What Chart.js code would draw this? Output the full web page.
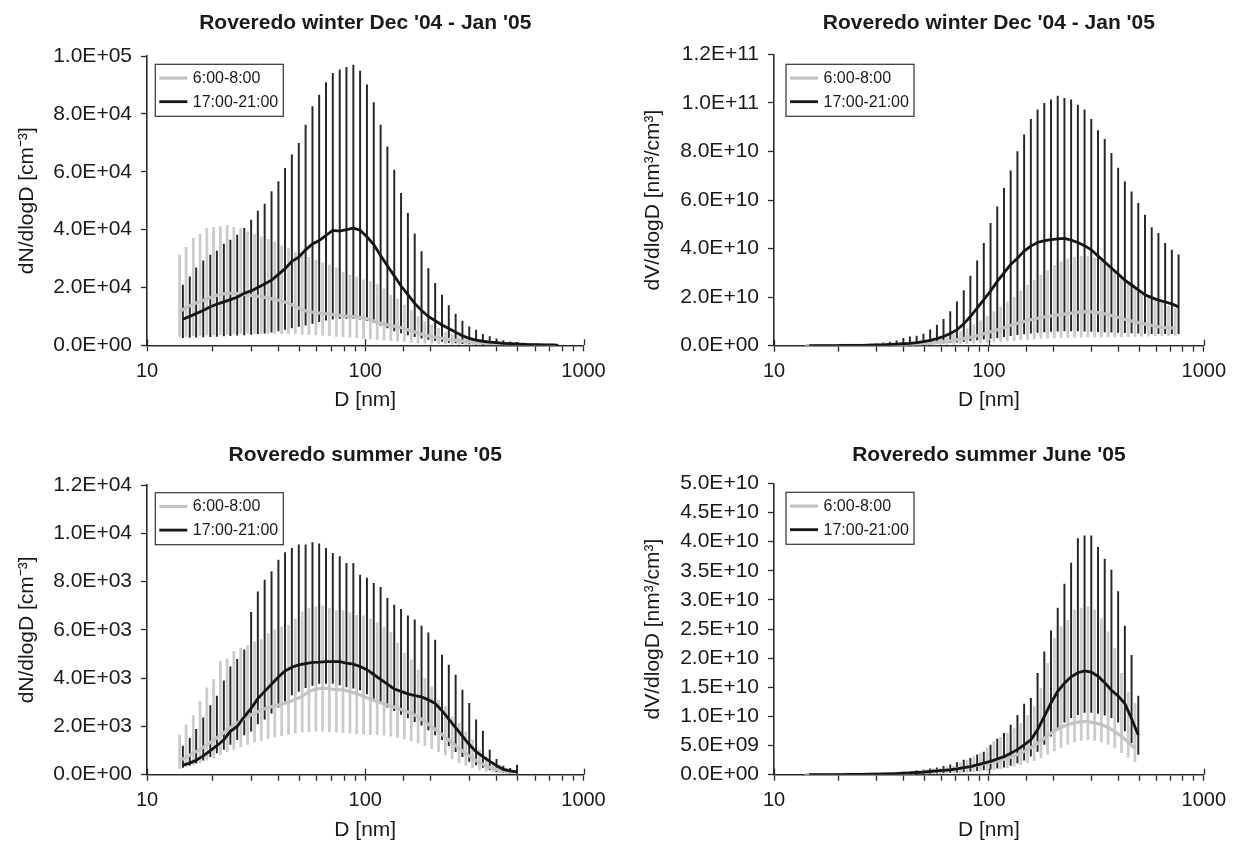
<!DOCTYPE html>
<html><head><meta charset="utf-8">
<script src="https://cdn.jsdelivr.net/npm/chart.js@4.4.1/dist/chart.umd.min.js"></script>
<style>
html,body{margin:0;padding:0;background:#fff;}
#wrap{position:relative;width:1234px;height:843px;background:#fff;}
canvas{position:absolute;}
</style></head><body>
<div id="wrap">
<canvas id="c1" width="617" height="421" style="left:0;top:0"></canvas>
<canvas id="c2" width="617" height="421" style="left:617px;top:0"></canvas>
<canvas id="c3" width="617" height="422" style="left:0;top:421px"></canvas>
<canvas id="c4" width="617" height="422" style="left:617px;top:421px"></canvas>
</div>
<script>
// ---------- labels ----------
const titles = ["Roveredo winter Dec '04 - Jan '05", "Roveredo winter Dec '04 - Jan '05", "Roveredo summer June '05", "Roveredo summer June '05"];
const yTitles = ["dN/dlogD [cm\u207B\u00B3]", "dV/dlogD [nm\u00B3/cm\u00B3]", "dN/dlogD [cm\u207B\u00B3]", "dV/dlogD [nm\u00B3/cm\u00B3]"];
const xTitle = "D [nm]";
const legendLabels = ["6:00-8:00", "17:00-21:00"];
const xTickLabels = ["10", "100", "1000"];
const winterN_yLabels = ["0.0E+00", "2.0E+04", "4.0E+04", "6.0E+04", "8.0E+04", "1.0E+05"];
const winterV_yLabels = ["0.0E+00", "2.0E+10", "4.0E+10", "6.0E+10", "8.0E+10", "1.0E+11", "1.2E+11"];
const summerN_yLabels = ["0.0E+00", "2.0E+03", "4.0E+03", "6.0E+03", "8.0E+03", "1.0E+04", "1.2E+04"];
const summerV_yLabels = ["0.0E+00", "5.0E+09", "1.0E+10", "1.5E+10", "2.0E+10", "2.5E+10", "3.0E+10", "3.5E+10", "4.0E+10", "4.5E+10", "5.0E+10"];

// ---------- diameters (nm) ----------
const D_even = [14.1, 15.1, 16.3, 17.5, 18.8, 20.2, 21.7, 23.3, 25.0, 26.9, 28.9, 31.1, 33.4, 35.9, 38.5, 41.4, 44.5, 47.8, 51.4, 55.2, 59.4, 63.8, 68.5, 73.7, 79.1, 85.1, 91.4, 98.2, 105.5, 113.4, 121.9, 131.0, 140.7, 151.2, 162.5, 174.7, 187.7, 201.7, 216.7, 232.9, 250.3, 269.0, 289.0, 310.6, 333.8, 358.7, 385.4, 414.2, 445.1, 478.3, 514.0, 552.3, 593.5, 637.8, 685.4, 736.5];
const D_odd = [14.6, 15.7, 16.8, 18.1, 19.5, 20.9, 22.5, 24.1, 25.9, 27.9, 30.0, 32.2, 34.6, 37.2, 40.0, 42.9, 46.1, 49.6, 53.3, 57.3, 61.5, 66.1, 71.0, 76.4, 82.0, 88.2, 94.7, 101.8, 109.4, 117.6, 126.3, 135.8, 145.9, 156.8, 168.5, 181.1, 194.6, 209.1, 224.7, 241.4, 259.5, 278.8, 299.6, 322.0, 346.0, 371.8, 399.5, 429.4, 461.4, 495.8, 532.8, 572.5, 615.3, 661.2, 710.5, 763.5];

// ---------- winter, number ----------
const winterN_gray_mean = [11600, 13000, 14300, 15100, 16000, 17000, 17600, 18000, 18000, 17800, 17400, 17000, 16800, 16300, 15900, 15300, 14500, 13500, 12300, 11600, 11300, 11000, 10800, 10500, 10200, 10000, 9800, 9500, 8800, 8000, 7300, 6800, 6400, 5700, 5000, 4200, 3500, 3000, 2600, 2200, 1900, 1600, 1300, 1100, 900, 700, 550, 450, 350, 300, 250, 200, 150, 120, 100, 80];
const winterN_gray_high = [31200, 33900, 37000, 38400, 40400, 40800, 41000, 41500, 40800, 40400, 39300, 38400, 37500, 36600, 35800, 34400, 33500, 32100, 31200, 30400, 29500, 28500, 27800, 26800, 25100, 24300, 23700, 22600, 22000, 21000, 19500, 17400, 16000, 13900, 12000, 9900, 8200, 7000, 5900, 4500, 3800, 3000, 2400, 1700, 1300, 1000, 800, 600, 500, 400, 350, 300, 250, 200, 150, 120];
const winterN_gray_low = [3000, 3100, 3300, 3400, 3500, 3600, 3700, 3800, 3900, 4000, 4100, 4100, 4100, 4100, 4100, 4000, 4000, 3900, 3800, 3700, 3600, 3500, 3300, 3100, 3000, 2800, 2600, 2400, 2200, 2000, 1800, 1700, 1500, 1300, 1100, 900, 750, 650, 550, 450, 350, 300, 250, 200, 150, 120, 100, 80, 60, 50, 40, 30, 25, 20, 15, 10];
const winterN_black_mean = [9000, 10000, 11000, 12000, 13300, 14200, 15000, 15800, 16600, 18000, 18800, 20000, 21200, 22500, 24500, 26500, 29000, 30500, 33000, 35000, 36200, 38000, 39700, 39500, 40000, 40500, 39800, 37500, 34800, 31000, 27500, 24000, 20500, 17500, 14500, 12000, 10000, 8500, 7000, 5800, 4500, 3300, 2400, 1800, 1400, 1100, 900, 700, 550, 450, 350, 250, 200, 150, 100, 80];
const winterN_black_high = [20800, 23700, 26800, 29200, 31200, 32600, 35000, 36400, 38100, 40400, 43300, 46400, 48800, 53100, 56600, 61200, 65800, 69800, 76100, 82500, 86500, 90800, 94000, 95200, 96100, 96900, 94800, 90000, 83900, 76100, 68600, 60600, 52500, 45600, 38500, 32400, 26500, 21400, 17400, 13700, 10800, 8400, 6400, 5300, 3800, 3000, 2200, 1600, 1200, 1000, 800, 600, 450, 350, 250, 200];
const winterN_black_low = [2600, 2700, 2800, 2900, 3000, 3100, 3200, 3300, 3500, 3600, 3800, 4000, 4200, 4500, 5000, 5500, 6000, 6500, 7000, 7600, 8200, 8700, 9000, 9300, 9300, 9300, 9000, 8500, 7800, 7000, 6000, 5000, 4300, 3600, 3000, 2500, 2000, 1600, 1300, 1000, 800, 600, 450, 350, 250, 200, 150, 120, 100, 80, 60, 50, 40, 30, 20, 15];

// ---------- winter, volume ----------
const winterV_gray_mean = [0.002e10, 0.003e10, 0.004e10, 0.005e10, 0.006e10, 0.008e10, 0.01e10, 0.012e10, 0.015e10, 0.018e10, 0.022e10, 0.027e10, 0.033e10, 0.04e10, 0.05e10, 0.06e10, 0.07e10, 0.085e10, 0.1e10, 0.12e10, 0.15e10, 0.18e10, 0.22e10, 0.27e10, 0.32e10, 0.38e10, 0.45e10, 0.53e10, 0.61e10, 0.7e10, 0.79e10, 0.88e10, 0.96e10, 1.04e10, 1.1e10, 1.16e10, 1.21e10, 1.25e10, 1.28e10, 1.32e10, 1.36e10, 1.39e10, 1.4e10, 1.38e10, 1.34e10, 1.28e10, 1.2e10, 1.13e10, 1.05e10, 0.98e10, 0.92e10, 0.87e10, 0.8e10, 0.76e10, 0.74e10, 0.72e10];
const winterV_gray_high = [0.005e10, 0.006e10, 0.008e10, 0.01e10, 0.012e10, 0.015e10, 0.018e10, 0.022e10, 0.027e10, 0.033e10, 0.04e10, 0.05e10, 0.06e10, 0.075e10, 0.09e10, 0.11e10, 0.13e10, 0.16e10, 0.2e10, 0.25e10, 0.31e10, 0.38e10, 0.47e10, 0.58e10, 0.71e10, 0.86e10, 1.02e10, 1.2e10, 1.4e10, 1.6e10, 1.8e10, 2.0e10, 2.25e10, 2.5e10, 2.7e10, 2.9e10, 3.1e10, 3.3e10, 3.45e10, 3.58e10, 3.65e10, 3.68e10, 3.68e10, 3.62e10, 3.5e10, 3.3e10, 3.1e10, 2.85e10, 2.6e10, 2.4e10, 2.2e10, 2.05e10, 1.9e10, 1.75e10, 1.62e10, 1.54e10];
const winterV_gray_low = [0.0005e10, 0.0007e10, 0.001e10, 0.0012e10, 0.0015e10, 0.002e10, 0.0025e10, 0.003e10, 0.004e10, 0.005e10, 0.006e10, 0.007e10, 0.009e10, 0.011e10, 0.013e10, 0.016e10, 0.02e10, 0.024e10, 0.03e10, 0.035e10, 0.042e10, 0.05e10, 0.06e10, 0.07e10, 0.08e10, 0.1e10, 0.12e10, 0.14e10, 0.16e10, 0.18e10, 0.2e10, 0.22e10, 0.24e10, 0.26e10, 0.28e10, 0.3e10, 0.31e10, 0.32e10, 0.33e10, 0.34e10, 0.35e10, 0.35e10, 0.36e10, 0.36e10, 0.36e10, 0.36e10, 0.36e10, 0.37e10, 0.37e10, 0.38e10, 0.38e10, 0.39e10, 0.4e10, 0.4e10, 0.41e10, 0.42e10];
const winterV_black_mean = [0.002e10, 0.003e10, 0.004e10, 0.005e10, 0.007e10, 0.009e10, 0.011e10, 0.014e10, 0.017e10, 0.022e10, 0.03e10, 0.038e10, 0.05e10, 0.065e10, 0.08e10, 0.1e10, 0.13e10, 0.17e10, 0.22e10, 0.29e10, 0.38e10, 0.5e10, 0.65e10, 0.9e10, 1.2e10, 1.55e10, 1.9e10, 2.25e10, 2.65e10, 3.0e10, 3.35e10, 3.6e10, 3.9e10, 4.1e10, 4.25e10, 4.33e10, 4.37e10, 4.4e10, 4.42e10, 4.35e10, 4.25e10, 4.12e10, 3.95e10, 3.7e10, 3.45e10, 3.2e10, 2.95e10, 2.7e10, 2.5e10, 2.3e10, 2.1e10, 1.98e10, 1.88e10, 1.8e10, 1.72e10, 1.6e10];
const winterV_black_high = [0.006e10, 0.009e10, 0.012e10, 0.015e10, 0.021e10, 0.027e10, 0.033e10, 0.042e10, 0.051e10, 0.066e10, 0.09e10, 0.114e10, 0.15e10, 0.2e10, 0.3e10, 0.37e10, 0.4e10, 0.48e10, 0.65e10, 0.85e10, 1.09e10, 1.4e10, 1.81e10, 2.27e10, 2.87e10, 3.5e10, 4.22e10, 5.04e10, 5.72e10, 6.48e10, 7.2e10, 7.99e10, 8.68e10, 9.32e10, 9.71e10, 9.98e10, 10.12e10, 10.28e10, 10.19e10, 10.12e10, 9.91e10, 9.71e10, 9.32e10, 8.86e10, 8.5e10, 7.92e10, 7.31e10, 6.75e10, 6.34e10, 5.86e10, 5.38e10, 4.86e10, 4.63e10, 4.22e10, 3.94e10, 3.74e10];
const winterV_black_low = [0.001e10, 0.001e10, 0.002e10, 0.002e10, 0.003e10, 0.003e10, 0.004e10, 0.005e10, 0.006e10, 0.008e10, 0.01e10, 0.012e10, 0.015e10, 0.02e10, 0.025e10, 0.03e10, 0.04e10, 0.05e10, 0.06e10, 0.08e10, 0.1e10, 0.12e10, 0.15e10, 0.18e10, 0.21e10, 0.24e10, 0.27e10, 0.3e10, 0.33e10, 0.37e10, 0.41e10, 0.45e10, 0.49e10, 0.52e10, 0.55e10, 0.57e10, 0.59e10, 0.6e10, 0.61e10, 0.61e10, 0.61e10, 0.6e10, 0.59e10, 0.58e10, 0.57e10, 0.56e10, 0.55e10, 0.54e10, 0.53e10, 0.52e10, 0.51e10, 0.5e10, 0.5e10, 0.5e10, 0.5e10, 0.5e10];

// ---------- summer, number ----------
const summerN_gray_mean = [580, 720, 890, 1050, 1230, 1430, 1640, 1850, 2060, 2250, 2400, 2550, 2680, 2780, 2850, 2920, 3000, 3120, 3250, 3450, 3550, 3580, 3560, 3520, 3510, 3440, 3350, 3250, 3130, 3030, 2930, 2850, 2750, 2650, 2550, 2400, 2200, 1980, 1780, 1550, 1320, 1090, 880, 680, 500, 360, 250, 180, 130, 100];
const summerN_gray_high = [1640, 2060, 2450, 3050, 3600, 3950, 4700, 4800, 5100, 5250, 5350, 5500, 5600, 5850, 6000, 6130, 6200, 6450, 6750, 6880, 6950, 7000, 6900, 6800, 6800, 6700, 6600, 6580, 6450, 6300, 6100, 5900, 5450, 5030, 4760, 4340, 3990, 3640, 3090, 2820, 2400, 2130, 1780, 1440, 1030, 750, 540, 400, 260, 180];
const summerN_gray_low = [250, 320, 400, 500, 600, 700, 820, 950, 1050, 1150, 1250, 1350, 1420, 1500, 1560, 1620, 1680, 1720, 1760, 1780, 1800, 1800, 1780, 1760, 1740, 1720, 1700, 1680, 1660, 1650, 1640, 1600, 1540, 1480, 1400, 1320, 1200, 1080, 950, 820, 650, 500, 380, 280, 200, 140, 100, 70, 50, 40];
const summerN_black_mean = [400, 480, 600, 780, 1000, 1200, 1450, 1800, 2000, 2400, 2750, 3150, 3450, 3750, 4050, 4300, 4450, 4550, 4600, 4650, 4660, 4680, 4680, 4680, 4620, 4580, 4480, 4350, 4150, 3950, 3750, 3550, 3450, 3350, 3280, 3220, 3100, 2950, 2650, 2300, 1950, 1600, 1250, 950, 750, 550, 380, 220, 160, 120];
const summerN_black_high = [1190, 1510, 1880, 2360, 2860, 3260, 3890, 4470, 4780, 5170, 6730, 7580, 8060, 8410, 8890, 9200, 9380, 9520, 9520, 9610, 9560, 9380, 9170, 9030, 8760, 8760, 8270, 8140, 7930, 7760, 7310, 7030, 6850, 6580, 6410, 6160, 5880, 5580, 4960, 4540, 4130, 3510, 2960, 2270, 1810, 1020, 640, 360, 260, 400];
const summerN_black_low = [300, 380, 480, 600, 750, 900, 1050, 1250, 1450, 1650, 1800, 2100, 2300, 2550, 2800, 3050, 3300, 3450, 3600, 3700, 3780, 3780, 3780, 3720, 3640, 3580, 3510, 3350, 3160, 2950, 2800, 2650, 2500, 2350, 2200, 2050, 1850, 1650, 1450, 1200, 950, 750, 550, 400, 300, 200, 120, 80, 60, 50];

// ---------- summer, volume ----------
const summerV_gray_mean = [0.001e10, 0.0012e10, 0.0015e10, 0.002e10, 0.0025e10, 0.003e10, 0.004e10, 0.005e10, 0.006e10, 0.008e10, 0.01e10, 0.012e10, 0.015e10, 0.018e10, 0.023e10, 0.028e10, 0.034e10, 0.042e10, 0.05e10, 0.06e10, 0.07e10, 0.08e10, 0.095e10, 0.11e10, 0.13e10, 0.15e10, 0.17e10, 0.2e10, 0.22e10, 0.25e10, 0.28e10, 0.32e10, 0.37e10, 0.43e10, 0.5e10, 0.58e10, 0.67e10, 0.75e10, 0.81e10, 0.86e10, 0.89e10, 0.91e10, 0.91e10, 0.89e10, 0.86e10, 0.81e10, 0.74e10, 0.66e10, 0.56e10, 0.45e10];
const summerV_gray_high = [0.002e10, 0.0025e10, 0.003e10, 0.004e10, 0.005e10, 0.006e10, 0.008e10, 0.01e10, 0.012e10, 0.015e10, 0.018e10, 0.022e10, 0.027e10, 0.033e10, 0.04e10, 0.05e10, 0.06e10, 0.072e10, 0.085e10, 0.1e10, 0.115e10, 0.13e10, 0.15e10, 0.2e10, 0.25e10, 0.31e10, 0.37e10, 0.46e10, 0.57e10, 0.64e10, 0.71e10, 0.8e10, 0.88e10, 1.02e10, 1.17e10, 1.48e10, 1.91e10, 2.34e10, 2.54e10, 2.65e10, 2.83e10, 2.86e10, 2.88e10, 2.83e10, 2.68e10, 2.45e10, 2.17e10, 1.74e10, 1.42e10, 1.23e10];
const summerV_gray_low = [0.0002e10, 0.0003e10, 0.0004e10, 0.0005e10, 0.0006e10, 0.0008e10, 0.001e10, 0.0013e10, 0.0016e10, 0.002e10, 0.0025e10, 0.003e10, 0.004e10, 0.005e10, 0.006e10, 0.008e10, 0.01e10, 0.012e10, 0.015e10, 0.018e10, 0.022e10, 0.026e10, 0.03e10, 0.035e10, 0.04e10, 0.05e10, 0.06e10, 0.07e10, 0.08e10, 0.1e10, 0.12e10, 0.14e10, 0.17e10, 0.2e10, 0.24e10, 0.29e10, 0.35e10, 0.41e10, 0.47e10, 0.52e10, 0.56e10, 0.59e10, 0.6e10, 0.59e10, 0.56e10, 0.52e10, 0.46e10, 0.38e10, 0.3e10, 0.22e10];
const summerV_black_mean = [0.001e10, 0.0012e10, 0.0015e10, 0.002e10, 0.0025e10, 0.003e10, 0.004e10, 0.005e10, 0.006e10, 0.008e10, 0.01e10, 0.012e10, 0.015e10, 0.02e10, 0.025e10, 0.03e10, 0.038e10, 0.045e10, 0.055e10, 0.065e10, 0.075e10, 0.085e10, 0.1e10, 0.12e10, 0.14e10, 0.17e10, 0.2e10, 0.23e10, 0.27e10, 0.31e10, 0.37e10, 0.43e10, 0.51e10, 0.6e10, 0.77e10, 1.0e10, 1.23e10, 1.43e10, 1.57e10, 1.68e10, 1.75e10, 1.78e10, 1.76e10, 1.69e10, 1.58e10, 1.45e10, 1.35e10, 1.22e10, 0.96e10, 0.68e10];
const summerV_black_high = [0.003e10, 0.004e10, 0.005e10, 0.006e10, 0.007e10, 0.008e10, 0.01e10, 0.012e10, 0.014e10, 0.017e10, 0.02e10, 0.025e10, 0.03e10, 0.038e10, 0.047e10, 0.057e10, 0.07e10, 0.085e10, 0.1e10, 0.12e10, 0.145e10, 0.17e10, 0.21e10, 0.25e10, 0.28e10, 0.34e10, 0.39e10, 0.51e10, 0.61e10, 0.71e10, 0.85e10, 1.02e10, 1.21e10, 1.31e10, 1.74e10, 2.11e10, 2.47e10, 2.86e10, 3.27e10, 3.63e10, 4.05e10, 4.1e10, 4.1e10, 3.9e10, 3.7e10, 3.51e10, 3.14e10, 2.55e10, 2.05e10, 1.35e10];
const summerV_black_low = [0.0003e10, 0.0004e10, 0.0005e10, 0.0006e10, 0.0008e10, 0.001e10, 0.0013e10, 0.0016e10, 0.002e10, 0.0025e10, 0.003e10, 0.004e10, 0.005e10, 0.006e10, 0.008e10, 0.01e10, 0.013e10, 0.016e10, 0.02e10, 0.025e10, 0.03e10, 0.035e10, 0.042e10, 0.05e10, 0.06e10, 0.07e10, 0.08e10, 0.095e10, 0.11e10, 0.13e10, 0.16e10, 0.2e10, 0.25e10, 0.32e10, 0.4e10, 0.52e10, 0.66e10, 0.8e10, 0.9e10, 0.98e10, 1.03e10, 1.07e10, 1.07e10, 1.05e10, 1.02e10, 0.98e10, 0.9e10, 0.75e10, 0.55e10, 0.35e10];

// ---------- drawing ----------
const FONT = "'Liberation Sans', Arial, Helvetica, sans-serif";
const INK = '#1a1a1a';
const AXIS = '#2a2a2a';
const GRAY_LINE = '#c3c3c3';
const GRAY_BAR = '#cbcbcb';
const BLACK_LINE = '#151515';
const BLACK_BAR = '#262626';

const insideLegend = {
  id: 'insideLegend',
  afterDraw(chart, args, opts) {
    const {ctx, chartArea} = chart;
    const x = chartArea.left + opts.dx, y = chartArea.top + opts.dy;
    const w = 128, h = 52;
    ctx.save();
    ctx.fillStyle = '#fff';
    ctx.fillRect(x, y, w, h);
    ctx.strokeStyle = '#333';
    ctx.lineWidth = 1.2;
    ctx.strokeRect(x, y, w, h);
    const rows = [{c: GRAY_LINE, lw: 3.2, dy: 13.8}, {c: BLACK_LINE, lw: 2.8, dy: 37.4}];
    rows.forEach((r, i) => {
      ctx.strokeStyle = r.c; ctx.lineWidth = r.lw;
      ctx.beginPath(); ctx.moveTo(x + 4, y + r.dy); ctx.lineTo(x + 32, y + r.dy); ctx.stroke();
      ctx.fillStyle = INK; ctx.font = '16px ' + FONT; ctx.textBaseline = 'middle'; ctx.textAlign = 'left';
      ctx.fillText(legendLabels[i], x + 37.5, y + r.dy + 0.5);
    });
    ctx.restore();
  }
};

// upward part of the major x ticks (decades), which cross the axis line
const majorTicks = {
  id: 'majorTicks',
  afterDraw(chart) {
    const {ctx} = chart;
    const xs = chart.scales.x, bottom = chart.chartArea.bottom;
    ctx.save();
    ctx.strokeStyle = AXIS; ctx.lineWidth = 1.3;
    xTickLabels.forEach((t) => {
      const px = Math.round(xs.getPixelForValue(Number(t))) + 0.5;
      ctx.beginPath(); ctx.moveTo(px, bottom - 6); ctx.lineTo(px, bottom); ctx.stroke();
    });
    ctx.restore();
  }
};

function pts(ds, ys) { return ds.map((d, i) => ({x: d, y: ys[i]})); }
function rng(ds, lo, hi) { return ds.map((d, i) => ({x: d, y: [lo[i], hi[i]]})); }

function makePanel(p) {
  const datasets = [
    {type: 'bar', label: legendLabels[0] + ' range', data: rng(p.dG, p.gLo, p.gHi), backgroundColor: GRAY_BAR, borderWidth: 0, barThickness: 2.1, grouped: false, order: 3},
    {type: 'bar', label: legendLabels[1] + ' range', data: rng(p.dB, p.bLo, p.bHi), backgroundColor: BLACK_BAR, borderWidth: 0, barThickness: 1.3, grouped: false, order: 2},
    {type: 'line', label: legendLabels[0], data: pts(p.dG, p.gMean), borderColor: GRAY_LINE, borderWidth: 3.2, pointRadius: 0, tension: 0, order: 1},
    {type: 'line', label: legendLabels[1], data: pts(p.dB, p.bMean), borderColor: BLACK_LINE, borderWidth: 2.8, pointRadius: 0, tension: 0, order: 0}
  ];
  new Chart(document.getElementById(p.id), {
    type: 'line',
    data: {datasets},
    plugins: [insideLegend, majorTicks],
    options: {
      responsive: false, animation: false, events: [],
      layout: {padding: {top: 0, left: 0, right: p.padR, bottom: p.padB}},
      plugins: {
        legend: {display: false}, tooltip: {enabled: false},
        title: {display: true, text: p.title, fullSize: false, color: INK,
          font: {family: FONT, size: 21, weight: 'bold', lineHeight: 1.2}, padding: p.titlePad},
        insideLegend: p.legend
      },
      scales: {
        x: {
          type: 'logarithmic', min: 10, max: 1000, offset: false,
          grid: {display: true, drawOnChartArea: false, drawTicks: true, tickLength: 6, tickColor: AXIS, tickWidth: 1.3, offset: false},
          border: {display: true, color: AXIS, width: 1.6},
          ticks: {autoSkip: false, maxRotation: 0, minRotation: 0, padding: 8, color: INK, font: {family: FONT, size: 20},
            callback: (v) => xTickLabels.includes(String(v)) ? String(v) : ''},
          title: {display: true, text: xTitle, color: INK, font: {family: FONT, size: 21, lineHeight: 1.2}, padding: {top: 0, bottom: 0}},
          afterFit: (s) => { s.height = p.xH; }
        },
        y: {
          type: 'linear', min: 0, max: p.yMax,
          grid: {display: true, drawOnChartArea: false, drawTicks: true, tickLength: 6, tickColor: AXIS, tickWidth: 1.3},
          border: {display: true, color: AXIS, width: 1.6},
          ticks: {stepSize: p.yStep, padding: 9, color: INK, font: {family: FONT, size: 21},
            callback: (v, i) => p.yLabels[i]},
          title: {display: true, text: p.yTitle, color: INK, font: {family: FONT, size: 21, lineHeight: 1.2}, padding: {top: p.yTitlePad, bottom: 0}},
          afterFit: (s) => { s.width = p.yW; }
        }
      }
    }
  });
}

makePanel({id: 'c1', title: titles[0], yTitle: yTitles[0], yMax: 1e5, yStep: 2e4, yLabels: winterN_yLabels,
  dG: D_even, dB: D_odd, gMean: winterN_gray_mean, gLo: winterN_gray_low, gHi: winterN_gray_high,
  bMean: winterN_black_mean, bLo: winterN_black_low, bHi: winterN_black_high,
  yW: 147, padR: 33.5, padB: 8, xH: 67.7, titlePad: {top: 11, bottom: 19.8}, yTitlePad: 14.5, legend: {dx: 8.3, dy: 8.3}});
makePanel({id: 'c2', title: titles[1], yTitle: yTitles[1], yMax: 1.2e11, yStep: 2e10, yLabels: winterV_yLabels,
  dG: D_even, dB: D_odd, gMean: winterV_gray_mean, gLo: winterV_gray_low, gHi: winterV_gray_high,
  bMean: winterV_black_mean, bLo: winterV_black_low, bHi: winterV_black_high,
  yW: 157, padR: 25.5, padB: 8, xH: 67.3, titlePad: {top: 11, bottom: 18.1}, yTitlePad: 23.5, legend: {dx: 12, dy: 10}});
makePanel({id: 'c3', title: titles[2], yTitle: yTitles[2], yMax: 1.2e4, yStep: 2e3, yLabels: summerN_yLabels,
  dG: D_even.slice(0, 50), dB: D_odd.slice(0, 50), gMean: summerN_gray_mean, gLo: summerN_gray_low, gHi: summerN_gray_high,
  bMean: summerN_black_mean, bLo: summerN_black_low, bHi: summerN_black_high,
  yW: 147, padR: 33.5, padB: 0, xH: 68.3, titlePad: {top: 21.4, bottom: 17.4}, yTitlePad: 14.5, legend: {dx: 8.3, dy: 7.7}});
makePanel({id: 'c4', title: titles[3], yTitle: yTitles[3], yMax: 5e10, yStep: 5e9, yLabels: summerV_yLabels,
  dG: D_even.slice(0, 50), dB: D_odd.slice(0, 50), gMean: summerV_gray_mean, gLo: summerV_gray_low, gHi: summerV_gray_high,
  bMean: summerV_black_mean, bLo: summerV_black_low, bHi: summerV_black_high,
  yW: 157, padR: 25.5, padB: 0, xH: 68.3, titlePad: {top: 21.4, bottom: 15.7}, yTitlePad: 23.5, legend: {dx: 12, dy: 9}});
</script>
</body></html>
